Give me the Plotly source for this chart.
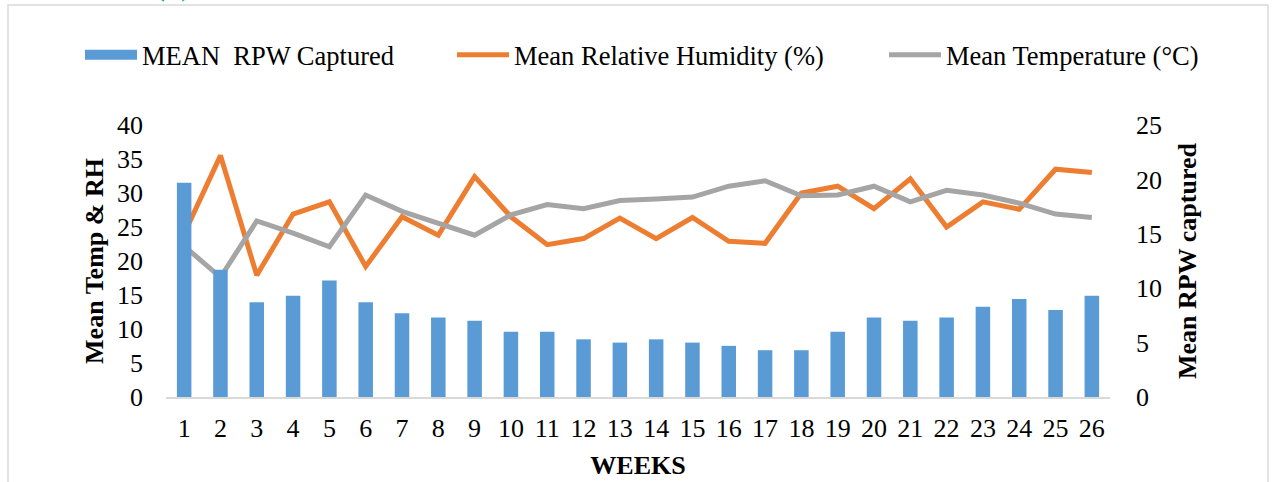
import plotly.graph_objects as go

weeks = [str(i) for i in range(1, 27)]
rpw_captured = [19.7, 11.7, 8.7, 9.3, 10.7, 8.7, 7.7, 7.3, 7.0, 6.0, 6.0, 5.3, 5.0,
                5.3, 5.0, 4.7, 4.3, 4.3, 6.0, 7.3, 7.0, 7.3, 8.3, 9.0, 8.0, 9.3]
rel_humidity = [24.0, 35.5, 17.9, 26.9, 28.7, 19.2, 26.5, 23.8, 32.4, 26.5, 22.4, 23.3, 26.3,
                23.3, 26.4, 22.9, 22.6, 30.0, 31.0, 27.7, 32.1, 25.0, 28.7, 27.6, 33.5, 33.0]
temperature = [22.2, 17.6, 25.9, 24.1, 22.1, 29.7, 27.3, 25.5, 23.8, 26.8, 28.3, 27.7, 28.9,
               29.1, 29.4, 31.0, 31.8, 29.6, 29.7, 31.0, 28.7, 30.4, 29.7, 28.5, 26.9, 26.4]
left_ticks = [0, 5, 10, 15, 20, 25, 30, 35, 40]
right_ticks = [0, 5, 10, 15, 20, 25]

BLUE = "#5b9bd5"
ORANGE = "#ed7d31"
GRAY = "#a5a5a5"
FONT = "Liberation Serif"
FS = 26

W, H = 1276, 482
L, R, T, B = 166, 166, 125, 85
pw, ph = W - L - R, H - T - B


def px(x):
    return (x - L) / pw


def py(y):
    return (H - B - y) / ph


fig = go.Figure()

fig.add_trace(go.Bar(
    x=weeks, y=rpw_captured, name="MEAN\u00a0 RPW Captured",
    marker=dict(color=BLUE, line=dict(width=0)),
    yaxis="y2", showlegend=False,
))
# legend swatch for the bars (wide block like the original)
fig.add_trace(go.Scatter(
    x=[None], y=[None], mode="lines", name="MEAN\u00a0 RPW Captured",
    line=dict(color=BLUE, width=13), legend="legend", yaxis="y2",
))
fig.add_trace(go.Scatter(
    x=weeks, y=rel_humidity, mode="lines", name="Mean Relative Humidity (%)",
    line=dict(color=ORANGE, width=5), legend="legend2",
))
fig.add_trace(go.Scatter(
    x=weeks, y=temperature, mode="lines", name="Mean Temperature (°C)",
    line=dict(color=GRAY, width=5), legend="legend3",
))

leg_common = dict(orientation="h", yanchor="middle", xanchor="left",
                  font=dict(family=FONT, size=26.5, color="#000000"),
                  itemwidth=52, bgcolor="rgba(0,0,0,0)", borderwidth=0,
                  tracegroupgap=0, itemclick=False)

fig.update_layout(
    width=W, height=H,
    margin=dict(l=L, r=R, t=T, b=B, autoexpand=False),
    paper_bgcolor="white", plot_bgcolor="white",
    font=dict(family=FONT, size=FS, color="#000000"),
    bargap=0.6,
    xaxis=dict(
        type="category", showgrid=False, zeroline=False, automargin=False,
        showline=True, linecolor="#d9d9d9", linewidth=2,
        ticks="", tickfont=dict(family=FONT, size=FS, color="#000000"),
        ticklabelstandoff=7,
        title=dict(text="<b>WEEKS</b>", font=dict(family=FONT, size=FS), standoff=14),
    ),
    yaxis=dict(
        range=[0, 40], tickvals=left_ticks, showgrid=False, zeroline=False,
        automargin=False,
        showline=False, ticks="", tickfont=dict(family=FONT, size=FS, color="#000000"),
        ticklabelstandoff=22,
        title=dict(text="<b>Mean Temp &amp; RH</b>", font=dict(family=FONT, size=FS), standoff=5),
    ),
    yaxis2=dict(
        range=[0, 25], tickvals=right_ticks, overlaying="y", side="right",
        automargin=False,
        showgrid=False, zeroline=False, showline=False, ticks="",
        tickfont=dict(family=FONT, size=FS, color="#000000"),
        ticklabelstandoff=25,
        title=dict(text="<b>Mean RPW captured</b>", font=dict(family=FONT, size=FS), standoff=16),
    ),
    legend=dict(x=px(80), y=py(55), **leg_common),
    legend2=dict(x=px(452), y=py(55), **leg_common),
    legend3=dict(x=px(884), y=py(55), **leg_common),
    shapes=[dict(type="rect", xref="paper", yref="paper",
                 x0=px(8), x1=px(1268), y0=py(5), y1=py(490),
                 line=dict(color="#d9d9d9", width=1.5), fillcolor="rgba(0,0,0,0)",
                 layer="below")],
    annotations=[dict(text="(a)", xref="paper", yref="paper", x=px(173), y=py(4),
                      xanchor="center", yanchor="bottom", showarrow=False,
                      font=dict(family=FONT, size=36, color="#00b050"))],
)

fig.write_html("out.html", config={"displayModeBar": False},
               post_script="document.body.style.margin='0px';")
